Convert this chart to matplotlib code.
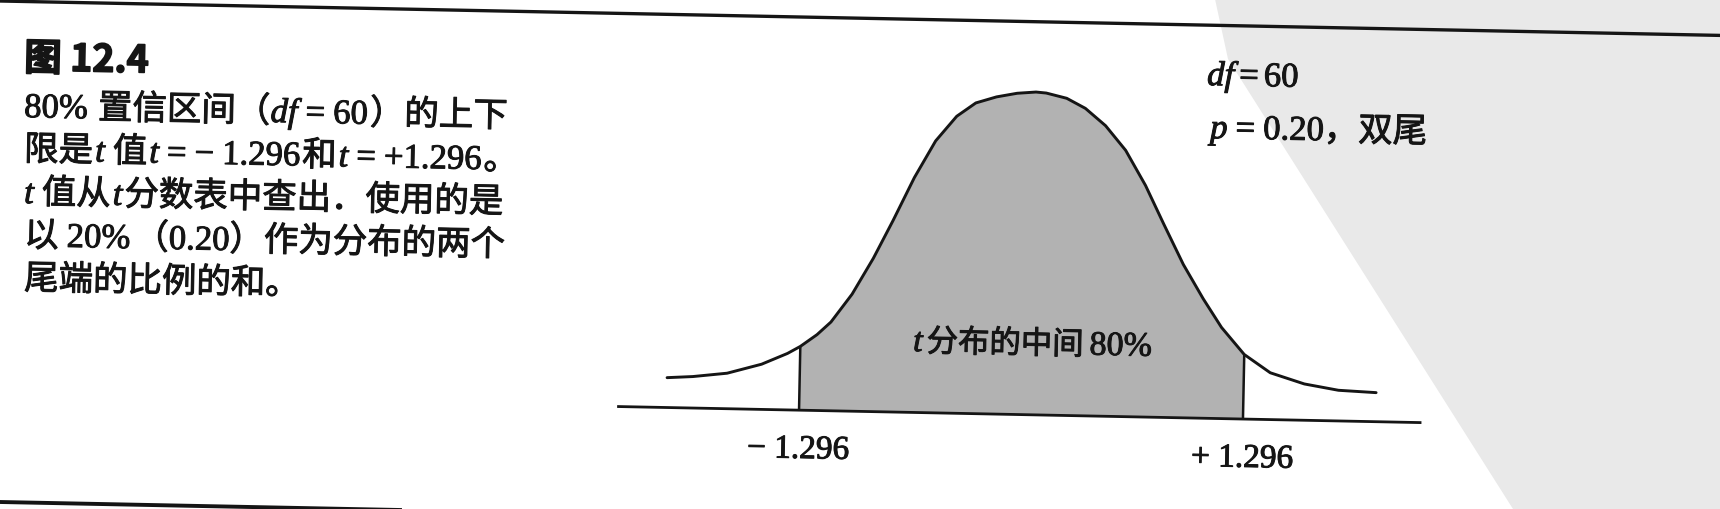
import math
import numpy as np
import matplotlib
matplotlib.use("Agg")
import matplotlib.pyplot as plt
import matplotlib.transforms as mtransforms
import matplotlib.patheffects as pe
from matplotlib.patches import Polygon
from matplotlib.lines import Line2D

# ---------------- data ----------------
T_VALUES = [-2.07, -1.92, -1.72, -1.52, -1.37, -1.296, -1.20, -1.12, -1.00, -0.88,
            -0.77, -0.65, -0.53, -0.41, -0.30, -0.18, -0.06, 0.05, 0.11, 0.23,
            0.34, 0.46, 0.58, 0.70, 0.81, 0.93, 1.05, 1.16, 1.296, 1.45,
            1.65, 1.85, 2.07]
DENSITY = [0.037, 0.039, 0.044, 0.056, 0.070, 0.079, 0.094, 0.110, 0.145, 0.190,
           0.237, 0.291, 0.337, 0.368, 0.385, 0.393, 0.398, 0.400, 0.399, 0.393,
           0.381, 0.360, 0.330, 0.287, 0.240, 0.190, 0.148, 0.113, 0.080, 0.058,
           0.045, 0.038, 0.036]
CUTOFF = 1.296
BASELINE_T = [-2.35, 2.33]

TITLE = "图 12.4"
CAPTION_LINES = [
    [("80%", "serif"), 10, ("置信区间（", "cjk"), ("df", "it"), 8, ("=", "serif"), 8, ("60", "serif"), 2,
     ("）的上下", "cjk")],
    [("限是", "cjk"), 2, ("t", "it"), 8, ("值", "cjk"), 2, ("t", "it"), 8, ("=", "serif"), 8, ("−", "serif"), 8,
     ("1.296", "serif"), 2, ("和", "cjk"), 2, ("t", "it"), 8, ("=", "serif"), 8, ("+1.296", "serif"), 2,
     ("。", "cjk")],
    [("t", "it"), 8, ("值从", "cjk"), 2, ("t", "it"), 2, ("分数表中查出．使用的是", "cjk")],
    [("以", "cjk"), 8, ("20%", "serif"), 4, ("（", "cjk"), ("0.20", "serif"), ("）作为分布的两个", "cjk")],
    [("尾端的比例的和。", "cjk")],
]
DF_LABEL = [("df", "it"), 5, ("=", "serif"), 5, ("60", "serif")]
P_LABEL = [("p", "it"), 8, ("=", "serif"), 8, ("0.20", "serif"), ("，双尾", "cjk")]
CENTER_LABEL = [("t", "it_s"), 4, ("分布的中间", "cjk_s"), 6, ("80%", "serif_s")]

# ---------------- figure ----------------
W, H = 1720, 510
fig = plt.figure(figsize=(W / 100, H / 100), dpi=100)
fig.patch.set_facecolor("white")
ax = fig.add_axes([0, 0, 1, 1])
ax.set_axis_off()

INK = "#151515"
SHADE = "#b2b2b2"
SKEW = 0.020
ANG = -math.degrees(math.atan(SKEW))

# mapping of the drawing frame (t units / density) to pixels
CX, BY = 1021.0, 94.4
T_PX, D_PX = 171.3, 807.0
ax.set_xlim(-CX / T_PX, (W - CX) / T_PX)
ax.set_ylim(-BY / D_PX, (H - BY) / D_PX)
rot = ax.transData + mtransforms.Affine2D().rotate_deg_around(CX, BY, ANG)

ident = mtransforms.IdentityTransform()

# light grey scan watermark region on the right
wm = Polygon([(1215, H), (1228, H - 60), (1513, 0), (W, 0), (W, H)],
             closed=True, transform=ident, facecolor="#e9e9e9", edgecolor="none", zorder=0)
fig.add_artist(wm)

# top and bottom rules (skewed as in the scan)
fig.add_artist(Line2D([0, W], [H - 2, H - 2 - SKEW * W], transform=ident,
                      color=INK, lw=2.4, zorder=3))
fig.add_artist(Line2D([0, W], [H - 503, H - 503 - SKEW * W], transform=ident,
                      color=INK, lw=2.8, zorder=3))

t = np.array(T_VALUES)
d = np.array(DENSITY)
mid = np.abs(t) <= CUTOFF + 1e-9

ax.fill_between(t, 0, d, where=mid, color=SHADE, linewidth=0, transform=rot, zorder=1)
ax.plot(t, d, color=INK, lw=2.1, transform=rot, zorder=3,
        solid_capstyle="round", solid_joinstyle="round")
cut_idx = [int(np.argmin(np.abs(t + CUTOFF))), int(np.argmin(np.abs(t - CUTOFF)))]
ax.vlines(t[cut_idx], 0, d[cut_idx], colors=INK, lw=1.8, transform=rot, zorder=3)
ax.plot(BASELINE_T, [0, 0], color=INK, lw=2.0, transform=rot, zorder=3)

thick = [pe.withStroke(linewidth=0.7, foreground=INK)]

# cutoff labels
for sign, ti in (("− ", -CUTOFF), ("+ ", CUTOFF)):
    ax.text(ti, -0.049, f"{sign}{CUTOFF}", transform=rot, ha="center", va="center",
            family=["Liberation Serif"], fontsize=24, color=INK, rotation=ANG,
            rotation_mode="anchor", path_effects=thick)

# ---------------- rich text helper ----------------
renderer = fig.canvas.get_renderer()
STYLES = {
    "cjk": dict(family=["Noto Sans CJK SC"], fontsize=24.8),
    "serif": dict(family=["Liberation Serif"], fontsize=25),
    "it": dict(family=["Liberation Serif"], style="italic", fontsize=25),
    "cjk_s": dict(family=["Noto Sans CJK SC"], fontsize=22.6),
    "serif_s": dict(family=["Liberation Serif"], fontsize=24.5),
    "it_s": dict(family=["Liberation Serif"], style="italic", fontsize=24.5),
    "bold": dict(family=["Noto Sans CJK SC"], fontsize=27, weight="bold"),
}


def rich(x, y, pieces, stroke=0.7):
    """x, y: left start and baseline in image pixels (y down)."""
    for p in pieces:
        if isinstance(p, (int, float)):
            x += p
            y += SKEW * p
            continue
        s, st = p
        txt = fig.text(x, H - y, s, transform=ident, ha="left", va="baseline",
                       color=INK, zorder=4, **STYLES[st])
        w = txt.get_window_extent(renderer).width
        txt.set_rotation(ANG)
        txt.set_rotation_mode("anchor")
        txt.set_path_effects([pe.withStroke(linewidth=stroke, foreground=INK)])
        x += w
        y += SKEW * w


rich(24, 71, [(TITLE, "bold")], stroke=1.2)
for i, line in enumerate(CAPTION_LINES):
    rich(24, 118 + 43 * i, line)

rich(1207, 86, DF_LABEL)
rich(1210, 139, P_LABEL)
rich(913, 352, CENTER_LABEL)

fig.savefig("out.png", dpi=100, facecolor="white")
